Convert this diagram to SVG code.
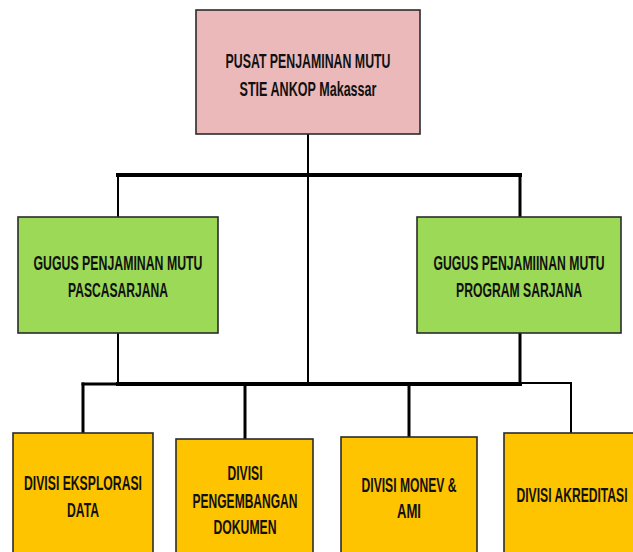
<svg xmlns="http://www.w3.org/2000/svg" width="633" height="552" viewBox="0 0 633 552">
<style>
.box{stroke:#2b2b2b;stroke-width:1.6}
.pink{fill:#ebb9ba}
.green{fill:#9bd957}
.yellow{fill:#ffc400}
text{font-family:"Liberation Sans",Arial,sans-serif;font-size:12.5px;fill:#111;text-anchor:middle;font-weight:bold}
.c{fill:none;stroke:#000;stroke-linecap:square}
</style>
<rect width="633" height="552" fill="#fff"/>
<g id="connectors">
<line class="c" x1="308" y1="134" x2="308" y2="383" stroke-width="2"/>
<line class="c" x1="118" y1="175" x2="520" y2="175" stroke-width="4"/>
<line class="c" x1="118" y1="175" x2="118" y2="217" stroke-width="2"/>
<line class="c" x1="520" y1="175" x2="520" y2="217" stroke-width="3"/>
<line class="c" x1="118" y1="333" x2="118" y2="384" stroke-width="2"/>
<line class="c" x1="520" y1="333" x2="520" y2="384" stroke-width="3"/>
<line class="c" x1="118" y1="384" x2="520" y2="384" stroke-width="4"/>
<line class="c" x1="83" y1="384" x2="118" y2="384" stroke-width="3"/>
<line class="c" x1="520" y1="383" x2="571" y2="383" stroke-width="2"/>
<line class="c" x1="83" y1="384" x2="83" y2="433" stroke-width="3"/>
<line class="c" x1="245" y1="384" x2="245" y2="439" stroke-width="3"/>
<line class="c" x1="409" y1="384" x2="409" y2="437" stroke-width="3"/>
<line class="c" x1="571" y1="383" x2="571" y2="433" stroke-width="2"/>
</g>
<g id="pusat">
<rect class="box pink" x="196" y="10" width="224" height="124"/>
<text transform="translate(308,68) scale(1,1.55)" textLength="165" lengthAdjust="spacingAndGlyphs">PUSAT PENJAMINAN MUTU</text>
<text transform="translate(308,96) scale(1,1.55)" textLength="137" lengthAdjust="spacingAndGlyphs">STIE ANKOP Makassar</text>
</g>
<g id="gugus-pascasarjana">
<rect class="box green" x="18" y="217" width="200" height="116"/>
<text transform="translate(118,270) scale(1,1.55)" textLength="169" lengthAdjust="spacingAndGlyphs">GUGUS PENJAMINAN MUTU</text>
<text transform="translate(118,297) scale(1,1.55)" textLength="100" lengthAdjust="spacingAndGlyphs">PASCASARJANA</text>
</g>
<g id="gugus-sarjana">
<rect class="box green" x="417" y="217" width="204" height="116"/>
<text transform="translate(519,270) scale(1,1.55)" textLength="171" lengthAdjust="spacingAndGlyphs">GUGUS PENJAMIINAN MUTU</text>
<text transform="translate(519,297) scale(1,1.55)" textLength="126" lengthAdjust="spacingAndGlyphs">PROGRAM SARJANA</text>
</g>
<g id="divisi-eksplorasi">
<rect class="box yellow" x="13" y="433" width="140" height="130"/>
<text transform="translate(83,490) scale(1,1.55)" textLength="118" lengthAdjust="spacingAndGlyphs">DIVISI EKSPLORASI</text>
<text transform="translate(83,517) scale(1,1.55)" textLength="32" lengthAdjust="spacingAndGlyphs">DATA</text>
</g>
<g id="divisi-pengembangan">
<rect class="box yellow" x="176" y="439" width="137" height="125"/>
<text transform="translate(245,480) scale(1,1.55)" textLength="35" lengthAdjust="spacingAndGlyphs">DIVISI</text>
<text transform="translate(245,508) scale(1,1.55)" textLength="105" lengthAdjust="spacingAndGlyphs">PENGEMBANGAN</text>
<text transform="translate(245,534) scale(1,1.55)" textLength="63" lengthAdjust="spacingAndGlyphs">DOKUMEN</text>
</g>
<g id="divisi-monev">
<rect class="box yellow" x="341" y="437" width="136" height="126"/>
<text transform="translate(409,492) scale(1,1.55)" textLength="95" lengthAdjust="spacingAndGlyphs">DIVISI MONEV &amp;</text>
<text transform="translate(409,518) scale(1,1.55)" textLength="24" lengthAdjust="spacingAndGlyphs">AMI</text>
</g>
<g id="divisi-akreditasi">
<rect class="box yellow" x="504" y="433" width="140" height="130"/>
<text transform="translate(572,502) scale(1,1.55)" textLength="111" lengthAdjust="spacingAndGlyphs">DIVISI AKREDITASI</text>
</g>
</svg>
